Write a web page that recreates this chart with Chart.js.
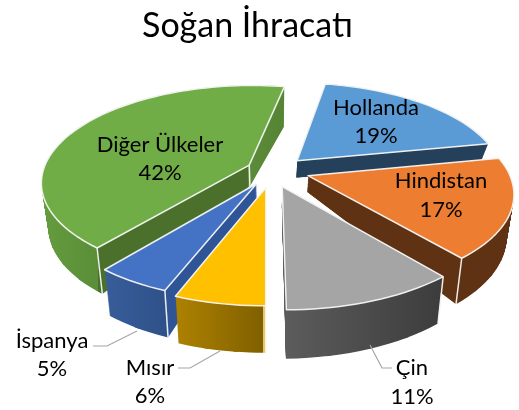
<!DOCTYPE html>
<html><head><meta charset="utf-8">
<style>html,body{margin:0;padding:0;background:#fff}canvas{display:block}</style>
<script src="https://cdn.jsdelivr.net/npm/chart.js@4"></script>
</head><body><canvas id="c" width="519" height="410"></canvas>
<script>
const categories = ['Hollanda','Hindistan','Çin','Mısır','İspanya','Diğer Ülkeler'];
const shares = [19,17,11,6,5,42];
const topColors = ['#5b9bd5','#ed7d31','#a5a5a5','#ffc000','#4472c4','#70ad47'];
const sliceOffsets = [98,98,82,70,60,50];
const rimScales = [1.03,1,1.04,1,1,1.03];
const sliceNudges = [[1,2],[1,0],[-3,0],[1,0],[2,0],[0,0]];
// wall depth in px: [start corner, end corner, apex]
const wallDepths = [[16,16,17],[40,46,16],[47,49,20],[47,47,20],[47,46,20],[46,40,21]];
// which vertical bevels show: [start corner, end corner, apex]
const bevels = [[0,0,0],[0,1,0],[1,0,0],[1,0,0],[1,0,0],[1,0,1]];
// wall colour stops by screen x
const wallStops = [
 [[0,'#25405a'],[519,'#25405a']],
 [[0,'#5f3214'],[519,'#5f3214']],
 [[284,'#5c5c5c'],[444,'#3c3c3c']],
 [[177,'#ad8100'],[263,'#806000'],[263.01,'#e8c76a'],[272,'#e8c76a']],
 [[106,'#375d9a'],[166,'#2f5189'],[166.01,'#2f5597'],[262,'#2f5597']],
 [[42,'#649c3e'],[98,'#5a8e38'],[98.01,'#4a702c'],[248,'#4a702c'],[248.01,'#5c8c39'],[285,'#558534']]
];
const drawOrder = [5,0,1,4,3,2];
const labelSpots = [[376,108,136],[441,181,210],[412,368,397],[150,368,396],[52,341,369],[160,145,173]];
const leaderLines = [null,null,[[370,345],[382,368],[392,368]],[[220,351],[190,368],[178,368]],[[137,331],[107,346],[93,346]],null];

const view = {cx:272, cy:170, rx:200, ry:92, k:0.165, converge:0.97};
function project(nx,ny){const w=1-view.k*ny;return [view.cx+nx*view.rx/w, view.cy+ny*view.ry/w];}
function solveAffine(s,d){
  const [x0,y0]=s[0],[x1,y1]=s[1],[x2,y2]=s[2];
  const det=(x1-x0)*(y2-y0)-(x2-x0)*(y1-y0);
  const f=(v0,v1,v2)=>{
    const p=((v1-v0)*(y2-y0)-(v2-v0)*(y1-y0))/det;
    const q=((x1-x0)*(v2-v0)-(x2-x0)*(v1-v0))/det;
    return [p,q,v0-p*x0-q*y0];
  };
  const X=f(d[0][0],d[1][0],d[2][0]),Y=f(d[0][1],d[1][1],d[2][1]);
  return {a:X[0],c:X[1],e:X[2],b:Y[0],d:Y[1],f:Y[2]};
}
const PIECE = 10*Math.PI/180, SEAM = 0.6*Math.PI/180;
const pie3d = {
  id:'pie3d',
  afterLayout(chart){ if(chart.titleBlock){chart.titleBlock.left-=24;} },
  beforeDatasetsDraw(chart){
    const ctx=chart.ctx, meta=chart.getDatasetMeta(0);
    drawOrder.forEach(i=>{
      const el=meta.data[i], R0=el.outerRadius, R=R0*rimScales[i];
      const keep={x:el.x,y:el.y,startAngle:el.startAngle,endAngle:el.endAngle,circumference:el.circumference,outerRadius:el.outerRadius,options:el.options};
      const mid=(keep.startAngle+keep.endAngle)/2, circ=keep.endAngle-keep.startAngle;
      const off=(keep.options.offset||0)/4, fix=1-Math.sin(Math.min(Math.PI,circ)), t=off*(1+fix);
      const ax=keep.x+Math.cos(mid)*t, ay=keep.y+Math.sin(mid)*t;
      const rimSrc=ang=>[ax+R*Math.cos(ang),ay+R*Math.sin(ang)];
      const nudge=sliceNudges[i];
      const toTop=p=>{const q=project((p[0]-keep.x)/R0,(p[1]-keep.y)/R0);return [q[0]+nudge[0],q[1]+nudge[1]];};
      const dep=wallDepths[i];
      const toBot=(p,D)=>{const q=toTop(p);return [view.cx+(q[0]-view.cx)*view.converge,q[1]+D];};
      const rimDepth=ang=>dep[0]+(dep[1]-dep[0])*(ang-keep.startAngle)/circ;
      const count=Math.max(1,Math.ceil(circ/PIECE)), stops=wallStops[i];
      const x0=stops[0][0], x1=stops[stops.length-1][0];
      const drawPiece=(a0,a1,frac,bg)=>{
        const ra=Math.max(keep.startAngle,a0-SEAM), rb=Math.min(keep.endAngle,a1+SEAM);
        const src=[[ax,ay],rimSrc(ra),rimSrc(rb)];
        const top=src.map(toTop);
        const bot=[toBot(src[0],dep[2]),toBot(src[1],rimDepth(ra)),toBot(src[2],rimDepth(rb))];
        const cur=top.map((p,j)=>[p[0]+(bot[j][0]-p[0])*frac,p[1]+(bot[j][1]-p[1])*frac]);
        const m=solveAffine(src,cur);
        let fill=bg;
        if(!fill){
          const g2=m.a*m.a+m.c*m.c;
          fill=ctx.createLinearGradient(m.a*(x0-m.e)/g2,m.c*(x0-m.e)/g2,m.a*(x1-m.e)/g2,m.c*(x1-m.e)/g2);
          stops.forEach(st=>fill.addColorStop((st[0]-x0)/(x1-x0),st[1]));
        }
        el.x=ax;el.y=ay;el.startAngle=ra;el.endAngle=rb;el.circumference=rb-ra;el.outerRadius=R;
        el.options=Object.assign({},keep.options,{backgroundColor:fill,borderWidth:0,offset:0});
        ctx.save();ctx.transform(m.a,m.b,m.c,m.d,m.e,m.f);el.draw(ctx);ctx.restore();
      };
      const step=circ/count;
      const N=60;
      for(let n=N;n>=1;n--){
        for(let p=0;p<count;p++) drawPiece(keep.startAngle+p*step,keep.startAngle+(p+1)*step,n/N,null);
      }
      // top face, repeated so the seams between pieces close up
      for(let pass=0;pass<4;pass++){
        for(let p=0;p<count;p++) drawPiece(keep.startAngle+p*step,keep.startAngle+(p+1)*step,0,keep.options.backgroundColor);
      }
      Object.assign(el,keep);
      ctx.save();ctx.strokeStyle='rgba(245,245,245,0.95)';ctx.lineWidth=1.5;ctx.lineJoin='round';
      const s0=[ax,ay], s1=rimSrc(keep.startAngle), s2=rimSrc(keep.endAngle);
      [[s1,dep[0]],[s2,dep[1]],[s0,dep[2]]].forEach((e,j)=>{
        if(!bevels[i][j])return;
        const a=toTop(e[0]),b=toBot(e[0],e[1]);
        ctx.beginPath();ctx.moveTo(a[0],a[1]);ctx.lineTo(b[0],b[1]);ctx.stroke();
      });
      ctx.beginPath();
      let q=toTop(s0);ctx.moveTo(q[0],q[1]);
      const K=Math.ceil(circ/(2*Math.PI/180));
      for(let k=0;k<=K;k++){q=toTop(rimSrc(keep.startAngle+circ*k/K));ctx.lineTo(q[0],q[1]);}
      ctx.closePath();ctx.stroke();
      ctx.restore();
    });
    return false;
  },
  afterDraw(chart){
    const ctx=chart.ctx;
    ctx.save();
    ctx.strokeStyle='#a6a6a6';ctx.lineWidth=1.2;
    leaderLines.forEach(l=>{ if(!l)return; ctx.beginPath();l.forEach((p,j)=>j?ctx.lineTo(p[0],p[1]):ctx.moveTo(p[0],p[1]));ctx.stroke();});
    ctx.fillStyle='#000';ctx.textAlign='center';ctx.textBaseline='middle';ctx.font='22px Lato';
    categories.forEach((c,i)=>{const s=labelSpots[i];ctx.fillText(c,s[0],s[1]);ctx.fillText(shares[i]+'%',s[0],s[2]);});
    ctx.restore();
  }
};
new Chart(document.getElementById('c'),{
  type:'pie',
  data:{labels:categories,datasets:[{data:shares,backgroundColor:topColors,offset:sliceOffsets,radius:150,borderWidth:0}]},
  options:{responsive:false,animation:false,rotation:10.5,
    plugins:{legend:{display:false},tooltip:{enabled:false},
      title:{display:true,text:'Soğan İhracatı',color:'#000',font:{family:'Lato',size:34,weight:'normal'},padding:{top:6,bottom:8}}}},
  plugins:[pie3d]
});
</script></body></html>
